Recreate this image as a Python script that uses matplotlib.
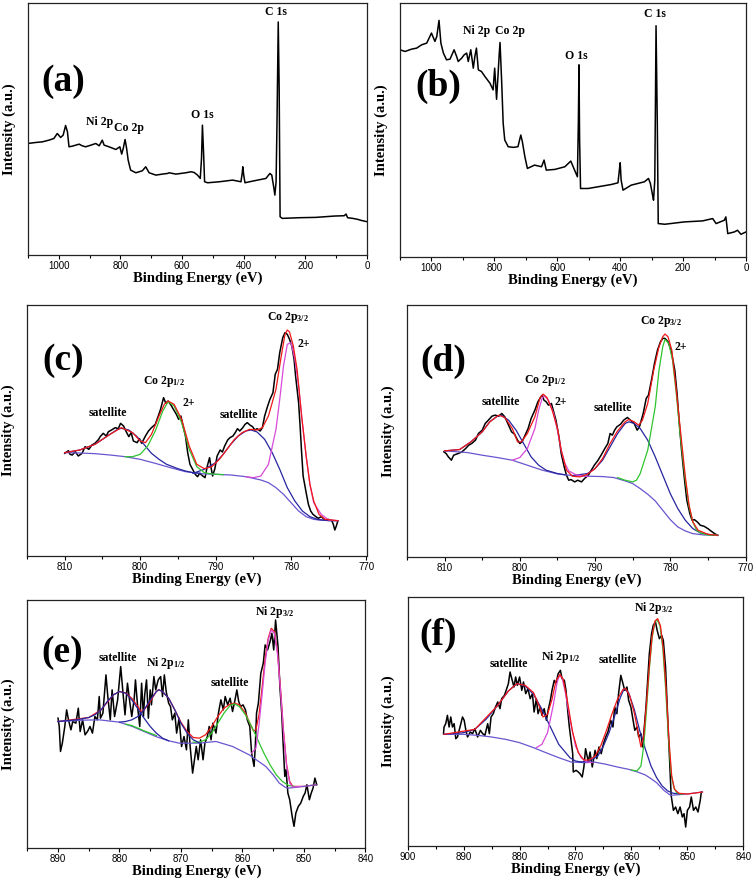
import matplotlib
matplotlib.use('Agg')
import matplotlib.pyplot as plt
import numpy as np

plt.rcParams['mathtext.fontset'] = 'custom'
plt.rcParams['mathtext.rm'] = 'Liberation Serif:bold'
plt.rcParams['mathtext.default'] = 'rm'

RED = '#f01818'
GREEN = '#2ec42e'
MAG = '#d84ad8'
NAVY = '#2626a0'
BGC = '#6a55d0'

# ---------------- (a) survey ----------------
a_spec = [(1100, 335), (1075, 338), (1053, 340), (1032, 345), (1016, 350), (1005, 365), (994, 353),
          (986, 360), (978, 389), (972, 370), (967, 325), (956, 327), (934, 333), (924, 328), (913, 325),
          (896, 330), (880, 335), (869, 328), (859, 345), (853, 330), (837, 325), (815, 317), (802, 325),
          (796, 303), (791, 320), (785, 347), (780, 320), (775, 285), (767, 255), (750, 247), (729, 253),
          (718, 265), (707, 247), (685, 240), (664, 243), (647, 245), (642, 247), (620, 243), (588, 247),
          (571, 250), (561, 248), (550, 240), (541, 230), (537, 290), (534, 390), (530, 300), (527, 220),
          (517, 217), (479, 220), (436, 225), (409, 220), (405, 245), (403, 265), (400, 240), (396, 217),
          (371, 222), (328, 230), (315, 245), (309, 240), (302, 200), (299, 180), (295, 220), (292, 400),
          (288, 700), (285, 500), (282, 115), (275, 110), (220, 112), (166, 113), (106, 117), (74, 118),
          (68, 123), (63, 112), (46, 110), (30, 107), (19, 104), (0, 100)]
a_labels = [('Ni 2p', 869, 400), ('Co 2p', 771, 382), ('O 1s', 534, 422), ('C 1s', 296, 730)]

# ---------------- (b) survey ----------------
b_spec = [(1100, 620), (1084, 615), (1063, 622), (1047, 625), (1031, 635), (1015, 640), (1005, 660),
          (1000, 670), (989, 645), (983, 660), (976, 708), (970, 640), (962, 610), (952, 590), (941, 592),
          (928, 620), (920, 600), (915, 585), (904, 595), (896, 605), (888, 610), (883, 585), (875, 620),
          (867, 565), (862, 600), (857, 625), (851, 560), (841, 555), (830, 540), (814, 520), (804, 500),
          (799, 565), (793, 472), (788, 550), (785, 600), (782, 642), (777, 530), (772, 400), (767, 350),
          (756, 330), (740, 328), (725, 330), (716, 365), (711, 345), (703, 300), (695, 265), (672, 275),
          (650, 270), (642, 290), (635, 260), (608, 262), (576, 270), (557, 287), (545, 260), (536, 240),
          (533, 400), (531, 575), (529, 350), (526, 205), (502, 205), (471, 210), (428, 217), (407, 222),
          (402, 265), (400, 282), (397, 230), (391, 200), (365, 215), (323, 225), (310, 235), (304, 220),
          (297, 185), (294, 170), (290, 230), (288, 450), (286, 692), (282, 400), (279, 100), (258, 98),
          (196, 105), (138, 108), (106, 115), (95, 100), (69, 110), (64, 120), (58, 70), (37, 75),
          (27, 80), (16, 68), (0, 75)]
b_labels = [('Ni 2p', 857, 675), ('Co 2p', 751, 675), ('O 1s', 539, 600), ('C 1s', 289, 728)]

# ---------------- (c) Co 2p ----------------
c_spec = [(810.0, 308), (809.5, 316), (809.3, 305), (809.0, 303), (808.6, 313), (808.2, 300), (807.7, 308),
          (807.3, 328), (806.8, 320), (806.4, 333), (806.0, 338), (805.5, 350), (805.3, 358), (804.9, 368),
          (804.5, 360), (804.2, 373), (803.8, 378), (803.3, 385), (802.9, 382), (802.6, 398), (802.2, 390),
          (801.9, 375), (801.5, 358), (801.2, 370), (800.9, 345), (800.4, 340), (800.1, 352), (799.8, 338),
          (799.3, 360), (798.9, 375), (798.5, 385), (798.0, 395), (797.6, 420), (797.3, 440), (796.9, 475),
          (796.6, 458), (796.3, 465), (795.9, 452), (795.6, 440), (795.2, 425), (794.9, 410), (794.6, 420),
          (794.4, 398), (794.0, 360), (793.7, 310), (793.4, 275), (793.0, 258), (792.7, 245), (792.4, 238),
          (792.1, 248), (791.7, 240), (791.4, 235), (791.1, 270), (790.8, 295), (790.6, 265), (790.4, 240),
          (790.1, 262), (789.8, 300), (789.4, 318), (789.1, 312), (788.8, 330), (788.4, 348), (788.1, 355),
          (787.7, 360), (787.4, 370), (787.1, 382), (786.8, 375), (786.4, 385), (786.1, 395), (785.8, 400),
          (785.4, 392), (785.1, 388), (784.8, 378), (784.5, 382), (784.1, 375), (783.8, 385), (783.5, 420),
          (783.1, 450), (782.8, 470), (782.4, 490), (782.1, 545), (781.8, 560), (781.5, 610), (781.1, 655),
          (780.8, 670), (780.5, 665), (780.2, 650), (779.9, 630), (779.6, 590), (779.4, 540), (779.0, 460),
          (778.8, 390), (778.6, 310), (778.4, 240), (778.0, 190), (777.7, 155), (777.4, 135), (777.1, 125),
          (776.7, 118), (776.4, 113), (776.0, 118), (775.5, 108), (775.1, 110), (774.6, 106), (774.4, 95),
          (774.2, 78), (774.0, 90), (773.8, 105)]
c_bg = [(810, 310), (808, 309), (806, 307), (804, 303), (802, 298), (800, 290), (798, 278), (796, 265),
        (794, 253), (792, 247), (790, 245), (788, 243), (786, 238), (784, 228), (783, 220), (782, 205),
        (781, 185), (780, 160), (779, 135), (778, 118), (777, 110), (776, 107), (773.8, 106)]
c_sat1 = [(810, 310), (808, 318), (806, 335), (804, 365), (803, 380), (802.5, 383), (801.5, 378),
          (800.5, 360), (799.5, 335), (798.5, 308), (797.5, 290), (796.5, 275), (795, 262), (794, 255),
          (793, 250), (792, 248)]
c_sat2 = [(793, 248), (791.5, 260), (790, 280), (789, 305), (788, 335), (787, 360), (786, 375),
          (785.3, 378), (784.5, 372), (783.5, 350), (782.5, 310), (781.5, 260), (780.5, 205), (779.5, 165),
          (778.5, 135), (777.5, 118), (776.5, 110), (775, 106), (773.8, 106)]
c_p12 = [(802, 298), (801, 298), (800, 305), (799, 330), (798, 375), (797, 435), (796.3, 463),
         (795.5, 450), (794.5, 400), (793.5, 320), (792.5, 268), (791.5, 250), (790.5, 246), (789, 244)]
c_p32 = [(786, 238), (785, 235), (784, 240), (783, 275), (782, 380), (781.5, 470), (781, 570),
         (780.5, 635), (780, 640), (779.5, 590), (779, 510), (778.5, 400), (778, 300), (777.5, 215),
         (777, 160), (776, 125), (775, 108), (773.8, 106)]
c_env = [(810, 310), (808, 318), (806, 335), (804, 365), (802.5, 385), (801, 370), (800, 345),
         (799.3, 340), (798.5, 365), (797.5, 420), (796.8, 455), (796.3, 465), (795.5, 455), (794.5, 410),
         (793.5, 330), (792.5, 275), (791.5, 262), (790.5, 268), (789.5, 290), (788.5, 320), (787.5, 350),
         (786.5, 370), (785.5, 380), (784.5, 378), (783.8, 385), (783, 420), (782, 500), (781.3, 600),
         (780.8, 665), (780.5, 678), (780.2, 672), (779.7, 630), (779.2, 560), (778.6, 420), (778, 300),
         (777.5, 215), (777, 165), (776.3, 125), (775.5, 110), (773.8, 106)]
c_labels = [('satellite', 804.3, 428), ('Co 2p$_{1/2}$', 796.9, 523), ('2+', 793.5, 458),
            ('satellite', 786.9, 423), ('Co 2p$_{3/2}$', 780.4, 716), ('2+', 778.3, 636)]

# ---------------- (d) Co 2p ----------------
d_spec = [(810.1, 315), (809.8, 310), (809.5, 300), (809.1, 290), (808.8, 305), (808.2, 310), (807.7, 315),
          (807.2, 325), (806.8, 335), (806.4, 340), (805.9, 350), (805.5, 370), (805.0, 380), (804.6, 400),
          (804.1, 412), (803.7, 422), (803.3, 425), (802.8, 422), (802.4, 430), (802.0, 420), (801.6, 400),
          (801.1, 375), (800.7, 368), (800.3, 350), (800.0, 340), (799.7, 345), (799.4, 360), (798.9, 385),
          (798.5, 415), (798.0, 440), (797.6, 465), (797.2, 480), (797.0, 485), (796.8, 470), (796.5, 465),
          (796.2, 455), (795.8, 460), (795.5, 435), (795.2, 410), (794.8, 360), (794.5, 310), (794.1, 270),
          (793.8, 245), (793.5, 230), (793.2, 232), (792.7, 225), (792.3, 230), (791.8, 225), (791.4, 235),
          (790.9, 245), (790.5, 260), (790.1, 275), (789.6, 290), (789.2, 305), (788.7, 325), (788.3, 340),
          (788.0, 370), (787.7, 365), (787.4, 380), (787.1, 390), (786.6, 398), (786.2, 410), (785.7, 418),
          (785.3, 410), (784.8, 400), (784.4, 380), (784.1, 390), (783.6, 430), (783.2, 475), (782.9, 485),
          (782.5, 530), (782.1, 580), (781.7, 620), (781.3, 645), (781.0, 655), (780.7, 655), (780.3, 645),
          (779.9, 620), (779.4, 560), (779.1, 490), (778.8, 400), (778.5, 320), (778.1, 230), (777.8, 170),
          (777.4, 130), (777.1, 110), (776.8, 112), (776.4, 105), (776.0, 95), (775.5, 92), (775.0, 85),
          (774.6, 78), (774.1, 70), (773.7, 65)]
d_bg = [(810, 318), (807, 313), (805, 305), (803, 298), (801, 290), (799, 275), (797, 260), (795, 249),
        (793, 244), (791, 242), (789, 241), (787.5, 238), (786, 228), (785, 220), (784, 205), (783, 188),
        (782, 168), (781, 140), (780, 112), (779, 90), (778, 78), (777, 70), (775.5, 66), (773.7, 65)]
d_sat1 = [(810, 318), (808, 322), (806.5, 345), (805, 375), (804, 405), (803, 422), (802.5, 425),
          (801.5, 410), (800.5, 380), (799.5, 340), (798.5, 300), (797.5, 275), (796.5, 260), (795, 250),
          (794, 246)]
d_p12 = [(801, 290), (800, 298), (799, 325), (798, 385), (797.5, 440), (797, 478), (796.7, 482),
         (796.2, 470), (795.5, 430), (795, 380), (794.5, 320), (794, 280), (793.5, 258), (792.5, 246),
         (791, 242)]
d_sat2 = [(793, 244), (791, 250), (790, 265), (789, 290), (788, 330), (787, 370), (786, 400),
          (785.5, 405), (784.8, 400), (784, 385), (783, 350), (782, 300), (781, 245), (780, 190),
          (779, 145), (778, 110), (777, 85), (776, 72), (774.5, 66), (773.7, 65)]
d_p32 = [(787, 238), (786, 230), (785, 225), (784.5, 230), (784, 250), (783, 320), (782, 450),
         (781.5, 560), (781, 630), (780.7, 652), (780.2, 640), (779.7, 590), (779.2, 490), (778.7, 370),
         (778, 230), (777.5, 150), (777, 105), (776.5, 80), (776, 72), (775, 66), (773.7, 65)]
d_env = [(810, 318), (808, 322), (806.5, 345), (805, 375), (804, 405), (802.8, 425), (802, 418),
         (801, 385), (800.3, 345), (799.8, 345), (799, 370), (798, 420), (797.3, 478), (796.9, 488),
         (796.4, 478), (795.7, 440), (795, 385), (794.5, 320), (793.8, 260), (793, 242), (792, 240),
         (791, 248), (790, 265), (789, 295), (788, 340), (787, 378), (786, 405), (785.5, 412),
         (784.8, 405), (784.2, 395), (783.7, 410), (783, 460), (782.2, 560), (781.5, 630), (781, 660),
         (780.7, 668), (780.3, 660), (779.8, 620), (779.3, 520), (778.7, 390), (778, 240), (777.5, 155),
         (777, 105), (776.3, 80), (775, 68), (773.7, 65)]
d_labels = [('satellite', 802.5, 465), ('Co 2p$_{1/2}$', 796.7, 530), ('2+', 794.6, 465),
            ('satellite', 787.7, 445), ('Co 2p$_{3/2}$', 781.2, 705), ('2+', 778.6, 630)]

# ---------------- (e) Ni 2p ----------------
e_spec = [(890.0, 390), (889.8, 365), (889.6, 290), (889.3, 315), (888.9, 365), (888.6, 415), (888.3, 385),
          (887.9, 355), (887.6, 380), (887.1, 375), (886.7, 420), (886.4, 350), (886.0, 385), (885.6, 340),
          (885.2, 350), (884.8, 365), (884.4, 345), (884.0, 395), (883.6, 385), (883.3, 455), (883.1, 390),
          (882.7, 405), (882.2, 520), (881.9, 455), (881.5, 385), (881.2, 475), (880.8, 395), (880.3, 445),
          (879.8, 545), (879.4, 460), (879.1, 400), (878.7, 495), (878.3, 435), (878.0, 395), (877.6, 450),
          (877.4, 505), (877.0, 415), (876.7, 365), (876.4, 495), (876.1, 395), (875.9, 460), (875.6, 505),
          (875.3, 390), (875.0, 475), (874.8, 430), (874.4, 515), (874.1, 475), (873.7, 505), (873.3, 515),
          (873.0, 455), (872.7, 520), (872.4, 470), (872.0, 435), (871.7, 425), (871.4, 385), (871.0, 405),
          (870.7, 345), (870.3, 390), (869.9, 305), (869.5, 335), (869.1, 295), (868.8, 385), (868.5, 305),
          (868.1, 225), (867.8, 265), (867.5, 305), (867.2, 265), (866.8, 325), (866.4, 265), (866.1, 315),
          (865.7, 335), (865.4, 365), (865.1, 325), (864.8, 375), (864.3, 345), (863.9, 405), (863.5, 445),
          (863.1, 415), (862.8, 455), (862.4, 430), (862.0, 450), (861.6, 410), (861.2, 445), (860.9, 475),
          (860.6, 440), (860.3, 425), (859.9, 430), (859.5, 415), (859.2, 385), (858.8, 365), (858.5, 285),
          (858.1, 245), (857.9, 305), (857.7, 405), (857.4, 435), (857.0, 525), (856.6, 555), (856.3, 610),
          (855.9, 595), (855.5, 620), (855.2, 645), (854.9, 595), (854.6, 685), (854.2, 605), (853.9, 485),
          (853.6, 405), (853.4, 325), (853.1, 215), (852.9, 235), (852.6, 165), (852.3, 145), (851.9, 95),
          (851.6, 65), (851.3, 105), (850.9, 125), (850.5, 135), (850.1, 155), (849.8, 165), (849.5, 190),
          (849.1, 145), (848.8, 165), (848.5, 180), (848.2, 210), (847.9, 190)]
e_bg = [(890, 380), (886, 384), (883.3, 385), (880, 378), (877.9, 365), (876, 350), (874.1, 335), (872, 322),
        (870.3, 315), (867, 315), (864.3, 320), (861.6, 305), (858.9, 280), (856.2, 245), (855, 220),
        (854, 195), (853, 182), (852.4, 180), (850, 185), (848, 190)]
e_sat1 = [(890, 380), (887, 385), (885, 392), (884, 400), (883, 415), (882, 440), (881, 460), (880, 470),
          (879, 465), (878, 445), (877, 418), (876, 390), (875, 365), (874, 345), (873, 330), (872, 322)]
e_low = [(879, 372), (878, 368), (877, 360), (876, 352), (875, 345), (874, 338)]
e_p12 = [(880, 378), (879, 380), (878, 385), (877, 395), (876, 415), (875, 445), (874, 470), (873.6, 475),
         (873, 470), (872, 450), (871, 415), (870, 375), (869, 345), (868, 325), (867, 316)]
e_sat2 = [(868, 318), (867, 318), (866, 325), (865, 345), (864, 375), (863, 405), (862, 428), (861.3, 433),
          (860.5, 425), (859.5, 400), (858.5, 365), (857.5, 325), (856.5, 285), (855.5, 250), (854.5, 220),
          (853.5, 200), (852.5, 188), (851.5, 185)]
e_p32 = [(858.5, 285), (857.8, 300), (857.3, 370), (856.8, 460), (856.3, 555), (855.8, 625), (855.3, 655),
         (854.8, 645), (854.3, 585), (853.8, 475), (853.3, 345), (852.8, 245), (852.3, 195), (851.8, 183),
         (850.5, 185)]
e_env = [(890, 380), (885, 392), (883, 415), (881, 460), (880, 470), (879, 466), (878, 450), (877, 425),
         (876.5, 410), (876, 415), (875, 440), (874, 470), (873.6, 476), (873, 470), (872, 450), (871, 415),
         (870, 378), (869, 350), (868, 332), (867, 330), (866, 340), (865, 365), (864, 395), (863, 420),
         (862, 432), (861.2, 435), (860.5, 430), (859.5, 405), (858.8, 375), (858.2, 352), (857.8, 355),
         (857.3, 400), (856.8, 480), (856.3, 570), (855.8, 630), (855.3, 660), (854.8, 650), (854.3, 590),
         (853.8, 480), (853.3, 350), (852.8, 250), (852.3, 200), (851.8, 185), (850, 185), (848, 190)]
e_labels = [('satellite', 880.3, 570), ('Ni 2p$_{1/2}$', 872.5, 555), ('satellite', 862.0, 497),
            ('Ni 2p$_{3/2}$', 854.8, 710)]

# ---------------- (f) Ni 2p ----------------
f_spec = [(893.6, 337), (893.5, 357), (893.2, 367), (892.9, 392), (892.6, 357), (892.3, 387), (892.0, 357),
          (891.7, 367), (891.4, 322), (891.1, 327), (890.8, 347), (890.5, 367), (890.2, 387), (889.9, 377),
          (889.6, 347), (889.3, 327), (888.8, 342), (888.4, 337), (888.0, 352), (887.5, 327), (887.0, 347),
          (886.6, 337), (886.2, 332), (885.7, 367), (885.4, 337), (885.1, 387), (884.7, 397), (884.3, 417),
          (883.9, 432), (883.5, 412), (883.2, 442), (882.7, 452), (882.3, 472), (882.0, 487), (881.7, 522),
          (881.3, 497), (881.0, 477), (880.7, 507), (880.4, 482), (880.0, 507), (879.6, 467), (879.3, 492),
          (878.9, 457), (878.5, 472), (878.1, 442), (877.7, 457), (877.4, 402), (877.0, 442), (876.7, 397),
          (876.3, 417), (876.0, 392), (875.6, 412), (875.2, 377), (874.9, 407), (874.5, 437), (874.2, 467),
          (873.8, 497), (873.5, 487), (873.1, 517), (872.7, 527), (872.4, 502), (872.0, 497), (871.7, 467),
          (871.4, 407), (871.1, 357), (870.8, 317), (870.5, 277), (870.4, 222), (869.9, 227), (869.5, 222),
          (869.2, 217), (868.8, 207), (868.5, 237), (868.2, 292), (867.7, 252), (867.4, 282), (867.0, 237),
          (866.5, 287), (866.2, 262), (865.8, 297), (865.4, 277), (865.0, 307), (864.6, 327), (864.2, 342),
          (863.7, 377), (863.3, 357), (863.0, 417), (862.6, 397), (862.3, 457), (861.9, 512), (861.5, 487),
          (861.2, 467), (860.8, 477), (860.5, 437), (860.1, 417), (859.8, 387), (859.4, 347), (859.0, 357),
          (858.7, 327), (858.3, 337), (858.0, 297), (857.7, 357), (857.4, 417), (857.1, 497), (856.8, 577),
          (856.4, 637), (856.1, 662), (855.7, 672), (855.4, 647), (855.0, 622), (854.6, 632), (854.3, 617),
          (853.9, 537), (853.6, 417), (853.2, 267), (852.9, 152), (852.5, 107), (852.1, 117), (851.7, 97),
          (851.3, 117), (850.9, 87), (850.6, 97), (850.3, 57), (850.0, 107), (849.6, 117), (849.3, 147),
          (848.9, 107), (848.5, 117), (848.1, 102), (847.7, 137), (847.5, 162)]
f_bg = [(893.5, 335), (890, 335), (887.5, 332), (885, 327), (882.5, 320), (880, 310), (877.5, 295),
        (875.6, 282), (873, 265), (870.8, 252), (868, 250), (866.7, 252), (864.5, 245), (862.5, 237),
        (860.5, 230), (858.9, 222), (857.5, 213), (856.5, 202), (855.5, 190), (854.2, 167), (853, 152),
        (850, 156), (847.3, 162)]
f_sat1 = [(893.5, 335), (890, 340), (888, 350), (886, 380), (884, 420), (882, 465), (880.5, 487),
          (879, 480), (877.5, 455), (876, 410), (875, 375), (874, 340), (873, 305), (872, 285), (871, 265),
          (870, 255), (869, 252)]
f_p12 = [(877, 295), (876, 305), (875, 340), (874, 420), (873.3, 490), (872.9, 510), (872.4, 505),
         (871.8, 460), (871, 380), (870, 300), (869, 265), (868, 252), (867, 250)]
f_sat2 = [(869, 252), (867.5, 255), (866, 270), (865, 300), (864, 340), (863, 390), (862, 445),
          (861.3, 472), (860.5, 460), (859.5, 410), (858.5, 345), (857.5, 290), (856.5, 240), (855.5, 205),
          (854.5, 180), (853.5, 165), (852.5, 158), (851, 156)]
f_p32 = [(860, 228), (859, 225), (858.3, 240), (857.8, 300), (857.3, 410), (856.8, 530), (856.3, 625),
         (855.8, 672), (855.4, 679), (854.9, 660), (854.4, 595), (853.9, 475), (853.4, 330), (852.9, 215),
         (852.4, 175), (851.9, 160), (851, 155)]
f_env = [(893.5, 335), (888, 350), (884, 420), (882, 465), (880.5, 487), (879, 482), (877.5, 460),
         (876.5, 420), (875.8, 387), (875, 395), (874.2, 440), (873.5, 495), (872.8, 515), (872.2, 500),
         (871.5, 440), (870.5, 340), (869.5, 280), (868.5, 258), (867.5, 258), (866.5, 270), (865.5, 300),
         (864.5, 345), (863.5, 395), (862.5, 440), (861.5, 470), (861, 472), (860.3, 450), (859.5, 400),
         (858.8, 340), (858.3, 297), (857.8, 330), (857.3, 430), (856.8, 540), (856.3, 630), (855.8, 675),
         (855.3, 682), (854.8, 660), (854.3, 590), (853.8, 470), (853.3, 320), (852.8, 210), (852.3, 170),
         (851.5, 158), (850, 156), (847.3, 162)]
f_labels = [('satellite', 882.0, 547), ('Ni 2p$_{1/2}$', 872.6, 567), ('satellite', 862.4, 559),
            ('Ni 2p$_{3/2}$', 856.0, 715)]

W, H = 756, 883
fig = plt.figure(figsize=(W / 100, H / 100), dpi=100)


def make_ax(l, t, r, b):
    return fig.add_axes([l / W, 1 - b / H, (r - l) / W, (b - t) / H])


def style(ax, xlim, ylim, major, minor, letter, letter_pos, wpx, hpx):
    ax.set_xlim(*xlim)
    ax.set_ylim(*ylim)
    ax.set_xticks(major)
    ax.set_xticks(minor, minor=True)
    ax.set_yticks([])
    ax.tick_params(axis='x', which='major', direction='out', length=3, width=0.8, pad=1.5,
                   labelsize=7, top=False)
    ax.tick_params(axis='x', which='minor', direction='out', length=2, width=0.8, top=False)
    for lab in ax.get_xticklabels():
        lab.set_fontfamily('Liberation Sans')
    for s in ax.spines.values():
        s.set_linewidth(0.9)
        s.set_color('#222222')
    ax.set_xlabel('Binding Energy (eV)', fontfamily='Liberation Serif', fontweight='bold', fontsize=10.5)
    ax.set_ylabel('Intensity (a.u.)', fontfamily='Liberation Serif', fontweight='bold', fontsize=10.5)
    ax.xaxis.set_label_coords(0.5, -16.5 / hpx)
    ax.xaxis.label.set_va('top')
    ax.yaxis.set_label_coords(-19 / wpx, 0.5)
    ax.yaxis.label.set_va('center')
    ax.text(letter_pos[0], letter_pos[1], letter, transform=ax.transAxes, ha='center', va='center',
            fontfamily='Liberation Serif', fontweight='bold', fontsize=27)


def curve(ax, pts, color, lw):
    x, y = np.array(pts).T
    ax.plot(x, y, color=color, lw=lw)


def labels(ax, items):
    for txt, x, y in items:
        ax.text(x, y, txt, ha='center', va='center', fontfamily='Liberation Serif',
                fontweight='bold', fontsize=8.5)


# (a)
ax = make_ax(28, 3, 367, 255)
curve(ax, a_spec, 'black', 1.1)
labels(ax, a_labels)
style(ax, (1100, 0), (0, 757), np.arange(1000, -1, -200), np.arange(1100, -1, -100), '(a)', (0.103, 0.687), 339, 252)

# (b)
ax = make_ax(400, 3, 746, 257)
curve(ax, b_spec, 'black', 1.1)
labels(ax, b_labels)
style(ax, (1100, 0), (0, 760), np.arange(1000, -1, -200), np.arange(1100, -1, -100), '(b)', (0.11, 0.67), 346, 254)

# (c)
ax = make_ax(27, 305, 366.5, 556)
curve(ax, c_spec, 'black', 1.1)
curve(ax, c_bg, BGC, 0.9)
curve(ax, c_sat1, NAVY, 0.9)
curve(ax, c_sat2, NAVY, 0.9)
curve(ax, c_p12, GREEN, 0.9)
curve(ax, c_p32, MAG, 0.9)
curve(ax, c_env, RED, 0.9)
labels(ax, c_labels)
style(ax, (815, 770), (0, 753), np.arange(810, 769, -10), np.arange(815, 769, -5), '(c)', (0.108, 0.78), 339.5, 251)

# (d)
ax = make_ax(407, 305, 745.5, 557)
curve(ax, d_spec, 'black', 1.1)
curve(ax, d_bg, BGC, 0.9)
curve(ax, d_sat1, NAVY, 0.9)
curve(ax, d_sat2, NAVY, 0.9)
curve(ax, d_p12, MAG, 0.9)
curve(ax, d_p32, GREEN, 0.9)
curve(ax, d_env, RED, 0.9)
labels(ax, d_labels)
style(ax, (815, 770), (0, 755), np.arange(810, 769, -10), np.arange(815, 769, -5), '(d)', (0.107, 0.775), 338.5, 252)

# (e)
ax = make_ax(27.3, 600, 365.3, 848)
curve(ax, e_spec, 'black', 1.1)
curve(ax, e_env, RED, 0.9)
curve(ax, e_bg, BGC, 0.9)
curve(ax, e_low, GREEN, 0.9)
curve(ax, e_sat2, GREEN, 0.9)
curve(ax, e_p32, MAG, 0.9)
curve(ax, e_sat1, NAVY, 0.9)
curve(ax, e_p12, NAVY, 0.9)
labels(ax, e_labels)
style(ax, (895, 840), (0, 745), np.arange(890, 839, -10), np.arange(895, 839, -5), '(e)', (0.104, 0.79), 338, 248)

# (f)
ax = make_ax(407.7, 597, 743.3, 846)
curve(ax, f_spec, 'black', 1.1)
curve(ax, f_bg, BGC, 0.9)
curve(ax, f_sat1, NAVY, 0.9)
curve(ax, f_sat2, NAVY, 0.9)
curve(ax, f_p12, MAG, 0.9)
curve(ax, f_p32, GREEN, 0.9)
curve(ax, f_env, RED, 0.9)
labels(ax, f_labels)
style(ax, (900, 840), (0, 747), np.arange(900, 839, -10), np.arange(895, 839, -5), '(f)', (0.09, 0.845), 335.6, 249)

fig.savefig('out.png', dpi=100)
